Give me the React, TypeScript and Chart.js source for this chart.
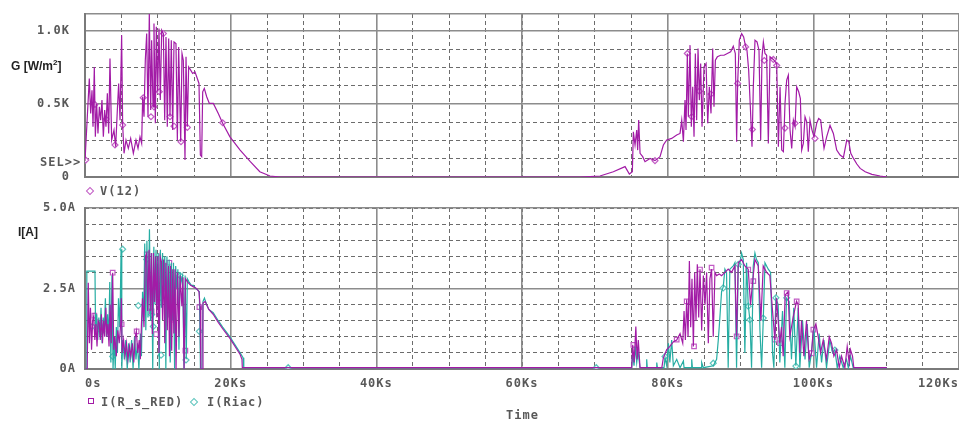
import React, { useEffect, useRef } from 'react';
import { Chart, registerables } from 'chart.js';

Chart.register(...registerables);

// ---------- axis ticks ----------
const timeTicks = [0, 20, 40, 60, 80, 100, 120];
const timeTickLabels = ['0s', '20Ks', '40Ks', '60Ks', '80Ks', '100Ks', '120Ks'];
const timeMinorTicks = [0, 5, 10, 15, 20, 25, 30, 35, 40, 45, 50, 55, 60, 65, 70, 75, 80, 85, 90, 95, 100, 105, 110, 115, 120];
const gTicks = [0, 500, 1000];
const gTickLabels = ['0', '0.5K', '1.0K'];
const gMinorTicks = [0, 125, 250, 375, 500, 625, 750, 875, 1000];
const gMax = 1115;
const iTicks = [0, 2.5, 5];
const iTickLabels = ['0A', '2.5A', '5.0A'];
const iMinorTicks = [0, 0.5, 1, 1.5, 2, 2.5, 3, 3.5, 4, 4.5, 5];

// ---------- V(12) : G [W/m2] vs time [Ks] ----------
const vSeries: [number, number][] = [
  [0, 110], [0.59, 674], [0.78, 435], [0.96, 594], [1.1, 344], [1.28, 753], [1.42, 275], [1.6, 503], [1.78, 298], [1.97, 480],
  [2.15, 389], [2.33, 526], [2.52, 275], [2.7, 458], [2.88, 344], [3.07, 572], [3.25, 298], [3.43, 811], [3.66, 253], [3.98, 321],
  [4.21, 207], [4.44, 458], [4.62, 640], [4.81, 389], [5.03, 970], [5.17, 355], [5.36, 162], [5.63, 253], [5.95, 196], [6.27, 264],
  [6.64, 162], [7.0, 253], [7.28, 196], [7.55, 275], [7.78, 230], [7.92, 549], [8.1, 412], [8.28, 799], [8.47, 981], [8.65, 412],
  [8.83, 1118], [9.02, 458], [9.15, 936], [9.34, 480], [9.47, 1050], [9.66, 367], [9.79, 1027], [9.98, 583], [10.16, 1016], [10.34, 526],
  [10.53, 1004], [10.76, 981], [10.94, 389], [11.12, 958], [11.3, 344], [11.49, 947], [11.67, 412], [11.85, 936], [12.04, 321], [12.22, 924],
  [12.49, 913], [12.68, 253], [12.86, 890], [13.14, 241], [13.32, 845], [13.5, 799], [13.73, 116], [13.87, 822], [14.05, 344], [14.23, 753],
  [14.51, 731], [14.78, 708], [15.1, 719], [15.42, 674], [15.65, 640], [15.84, 150], [16.02, 139], [16.16, 583], [16.38, 606], [16.71, 549],
  [17.07, 503], [17.62, 503], [18.3, 435], [18.9, 367], [19.9, 275], [21.3, 184], [22.7, 105], [24.0, 36], [25.4, 7], [26.8, 0],
  [68, 0], [70.71, 7], [72.54, 36], [74.15, 71], [74.74, 20], [75.15, 36], [75.29, 309], [75.52, 219], [75.75, 321], [75.88, 184],
  [76.02, 389], [76.21, 162], [76.57, 139], [76.89, 105], [77.58, 127], [78.26, 112], [78.95, 139], [79.41, 219], [79.87, 253], [80.55, 264],
  [81.24, 287], [81.7, 298], [81.93, 389], [82.16, 241], [82.38, 526], [82.52, 321], [82.7, 845], [82.84, 412], [83.07, 902], [83.25, 344],
  [83.44, 617], [83.62, 275], [83.8, 845], [83.98, 389], [84.17, 879], [84.35, 526], [84.53, 776], [84.72, 344], [84.99, 753], [85.27, 776],
  [85.5, 367], [85.72, 617], [85.95, 435], [86.18, 879], [86.36, 480], [86.55, 799], [86.82, 822], [87.28, 833], [87.74, 833], [88.19, 845],
  [88.65, 856], [89.01, 895], [89.29, 845], [89.47, 241], [89.61, 640], [89.84, 936], [90.16, 981], [90.43, 958], [90.66, 902], [90.89, 867],
  [91.12, 731], [91.35, 480], [91.58, 207], [91.76, 617], [91.99, 936], [92.27, 924], [92.54, 867], [92.77, 253], [92.95, 822], [93.14, 924],
  [93.36, 845], [93.59, 833], [93.82, 230], [94.05, 822], [94.51, 804], [94.97, 776], [95.2, 207], [95.43, 617], [95.66, 184], [95.89, 173],
  [96.11, 503], [96.34, 663], [96.57, 697], [96.8, 321], [97.03, 196], [97.26, 389], [97.49, 344], [97.71, 617], [97.99, 583], [98.22, 537],
  [98.4, 184], [98.63, 230], [98.86, 412], [99.09, 378], [99.31, 173], [99.54, 389], [99.82, 321], [100.09, 275], [100.46, 367], [100.73, 400],
  [101.01, 389], [101.24, 287], [101.47, 196], [101.83, 275], [102.29, 353], [102.75, 298], [103.21, 184], [103.67, 150], [104.13, 134], [104.59, 253],
  [104.87, 241], [105.14, 162], [105.51, 127], [105.97, 89], [106.43, 59], [107.12, 36], [108.04, 18], [109.18, 7], [110.1, 0],
];
const vMarkers: [number, number][] = [
  [0.1, 116], [1.37, 496], [2.88, 396], [4.12, 219], [5.17, 355], [8.0, 542], [9.06, 412], [9.47, 480], [10.2, 583], [10.76, 981],
  [11.67, 412], [12.22, 348], [13.18, 241], [14.05, 339], [18.9, 371],
  [78.26, 112], [82.7, 845], [83.3, 412], [84.35, 587], [85.95, 567], [89.61, 640], [90.7, 890], [91.63, 325], [93.27, 797], [94.51, 804],
  [94.97, 763], [96.11, 335], [97.49, 367], [100.23, 264],
];

// ---------- I(R_s_RED) [A] vs time [Ks] ----------
const redSeries: [number, number][] = [
  [0, 0], [0.3, 0], [0.45, 2.68], [0.6, 0.8], [0.75, 1.9], [0.9, 0.6], [1.05, 1.5], [1.2, 1.65], [1.35, 0.9], [1.5, 1.4],
  [1.65, 0.7], [1.8, 1.5], [1.95, 1.43], [2.1, 0.9], [2.25, 1.7], [2.4, 0.8], [2.55, 1.5], [2.7, 1.0], [2.85, 1.9], [3.0, 1.0],
  [3.15, 1.4], [3.3, 0.7], [3.45, 2.0], [3.6, 0.8], [3.8, 2.99], [3.95, 0.6], [4.1, 1.0], [4.3, 0.4], [4.5, 1.2], [4.7, 0.8],
  [4.9, 1.39], [5.0, 2.2], [5.1, 0.5], [5.3, 0.9], [5.5, 0.4], [5.7, 0.8], [5.9, 0.3], [6.1, 0.7], [6.3, 0.4], [6.5, 0.8],
  [6.7, 0.2], [6.9, 1.0], [7.05, 1.17], [7.25, 0.5], [7.45, 0.9], [7.6, 0.3], [7.75, 1.4], [7.9, 2.2], [8.1, 1.3], [8.3, 3.5],
  [8.47, 3.59], [8.6, 1.8], [8.8, 3.7], [8.95, 1.8], [9.1, 3.6], [9.25, 1.09], [9.4, 3.6], [9.55, 2.08], [9.7, 3.5], [9.85, 1.6],
  [10.0, 3.5], [10.15, 0.5], [10.3, 3.5], [10.5, 3.33], [10.65, 1.52], [10.8, 3.4], [10.95, 0.8], [11.1, 3.3], [11.3, 1.2], [11.45, 3.2],
  [11.6, 0.4], [11.75, 3.2], [11.9, 0.57], [12.05, 3.1], [12.2, 1.1], [12.35, 3.1], [12.5, 0], [12.7, 3.0], [12.9, 1.0], [13.05, 2.9],
  [13.3, 1.95], [13.45, 2.85], [13.6, 0], [13.8, 2.8], [14.1, 2.7], [14.5, 2.6], [14.9, 2.55], [15.3, 2.5], [15.65, 2.4], [15.8, 1.95],
  [15.9, 0], [16.1, 0], [16.2, 2.05], [16.5, 2.1], [17.0, 1.85], [17.6, 1.7], [18.3, 1.45], [18.9, 1.25], [19.9, 0.95], [20.6, 0.7],
  [21.3, 0.45], [21.55, 0.3], [21.6, 0.04],
  [75.06, 0.04], [75.2, 0.75], [75.4, 0.2], [75.63, 1.32], [75.8, 0.3], [75.97, 0.9], [76.2, 0.04], [79.2, 0.04], [79.41, 0.35], [79.87, 0.6],
  [80.3, 0.7], [80.8, 0.85], [81.24, 0.9], [81.7, 1.1], [82.07, 0.8], [82.25, 1.8], [82.43, 0.9], [82.61, 2.16], [82.8, 1.0], [82.98, 3.35],
  [83.16, 1.3], [83.34, 2.8], [83.53, 0.7], [83.71, 3.0], [83.89, 1.5], [84.07, 3.25], [84.26, 1.6], [84.44, 3.1], [84.67, 1.2], [84.9, 2.9],
  [85.13, 2.0], [85.35, 3.0], [85.58, 0.8], [85.8, 2.8], [86.03, 3.1], [86.26, 1.0], [86.49, 3.0], [86.72, 2.9], [87.08, 2.95], [87.4, 2.9],
  [87.86, 3.0], [88.31, 3.1], [88.77, 3.0], [89.23, 3.2], [89.46, 1.0], [89.69, 3.3], [90.15, 3.4], [90.6, 3.2], [91.06, 3.1], [91.38, 2.0],
  [91.66, 2.7], [91.98, 3.4], [92.44, 3.2], [92.8, 1.5], [93.12, 3.2], [93.58, 3.0], [94.03, 2.9], [94.4, 1.8], [94.72, 0.9], [94.95, 2.2],
  [95.4, 0.8], [95.63, 1.3], [95.86, 0.4], [96.13, 2.3], [96.54, 2.4], [96.77, 1.0], [97.23, 1.6], [97.69, 2.1], [97.92, 2.0], [98.15, 0.5],
  [98.38, 1.5], [98.7, 0.4], [99.06, 1.5], [99.43, 0.3], [99.75, 0.5], [99.98, 1.2], [100.35, 1.4], [100.67, 1.0], [100.99, 0.5], [101.36, 0.9],
  [101.81, 0.3], [102.18, 1.0], [102.5, 0.8], [102.82, 0.4], [103.19, 0.6], [103.55, 0.04], [103.87, 0.4], [104.33, 0.04], [104.65, 0.7], [104.92, 0.2],
  [105.1, 0.6], [105.38, 0.4], [105.56, 0.04], [110.1, 0.04],
];
const redMarkers: [number, number][] = [
  [1.28, 1.66], [2.38, 1.43], [3.8, 2.99], [5.03, 1.39], [7.09, 1.17], [8.47, 3.56], [9.15, 1.79], [9.75, 1.08], [10.3, 2.07], [11.58, 3.3],
  [11.95, 1.53], [13.78, 0.57], [15.7, 1.92],
  [75.29, 0.75], [81.24, 0.91], [82.61, 2.1], [83.62, 0.7], [84.44, 3.09], [86.03, 3.15], [89.47, 1.01], [91.06, 3.09], [91.76, 2.73], [94.72, 0.91],
  [95.43, 0.8], [96.34, 2.36], [97.71, 2.1], [99.77, 0.49], [100.0, 1.22],
];

// ---------- I(Riac) [A] vs time [Ks] ----------
const riacSeries: [number, number][] = [
  [0, 0], [0.2, 0], [0.25, 3.04], [1.37, 3.04], [1.45, 1.2], [1.6, 1.7], [1.75, 0.9], [1.9, 1.6], [2.05, 1.0], [2.2, 1.9],
  [2.35, 0.8], [2.5, 1.6], [2.65, 1.2], [2.8, 2.2], [2.95, 1.0], [3.1, 1.7], [3.25, 0.9], [3.4, 2.7], [3.55, 0.2], [3.7, 2.9],
  [3.85, 0], [4.0, 1.0], [4.15, 0], [4.3, 1.3], [4.45, 0.5], [4.6, 2.2], [4.8, 1.3], [4.95, 3.72], [5.05, 0], [5.2, 0.9],
  [5.4, 0.3], [5.6, 0.9], [5.8, 0], [6.0, 0.8], [6.2, 0.2], [6.4, 0.9], [6.6, 0], [6.8, 1.0], [7.0, 0.3], [7.2, 0.8],
  [7.4, 0], [7.6, 1.1], [7.75, 0.4], [7.9, 2.4], [8.05, 1.5], [8.2, 3.9], [8.35, 1.2], [8.5, 3.98], [8.65, 1.6], [8.85, 4.34],
  [9.0, 1.5], [9.15, 3.6], [9.3, 0], [9.45, 3.8], [9.6, 2.0], [9.75, 3.7], [9.9, 2.2], [10.05, 3.6], [10.2, 0], [10.35, 3.7],
  [10.5, 1.9], [10.65, 3.6], [10.8, 2.4], [10.95, 3.5], [11.1, 0], [11.25, 3.5], [11.4, 1.6], [11.55, 3.4], [11.7, 0.2], [11.85, 3.3],
  [12.0, 1.5], [12.15, 3.3], [12.3, 0], [12.45, 3.2], [12.6, 2.5], [12.75, 3.1], [12.9, 0.6], [13.05, 3.0], [13.2, 2.7], [13.4, 2.9],
  [13.6, 0], [13.75, 2.9], [13.9, 0.3], [14.05, 2.8], [14.3, 2.7], [14.6, 2.6], [14.9, 2.6], [15.2, 2.5], [15.5, 2.45], [15.7, 2.4],
  [15.85, 0], [16.05, 0], [16.2, 2.1], [16.4, 2.2], [16.7, 2.0], [17.0, 1.85], [17.6, 1.75], [18.3, 1.5], [18.9, 1.3], [19.9, 1.0],
  [20.6, 0.75], [21.3, 0.5], [21.7, 0.35], [21.8, 0.04],
  [75.06, 0.04], [75.2, 0.5], [75.38, 0.1], [75.56, 0.7], [75.75, 0.2], [75.93, 0.55], [76.2, 0.05], [77.05, 0.04], [77.12, 0.3], [77.2, 0.04],
  [78.45, 0.04], [78.5, 0.2], [78.6, 0.04], [79.5, 0.04], [79.64, 0.35], [79.87, 0.1], [80.1, 0.8], [80.3, 0.2], [80.55, 0.9], [80.78, 0.1],
  [81.24, 0.3], [81.7, 0.04], [82.16, 0.25], [82.25, 0.04], [83.25, 0.04], [83.3, 0.3], [83.4, 0.04], [84.6, 0.04], [84.67, 0.2], [84.9, 0.04],
  [86.26, 0.1], [86.72, 0.3], [86.95, 0.9], [87.17, 1.6], [87.4, 2.4], [87.63, 2.55], [87.86, 3.1], [88.08, 3.0], [88.31, 0.04], [88.54, 3.1],
  [89.0, 3.2], [89.23, 3.3], [89.46, 0.04], [89.69, 3.2], [89.92, 3.3], [90.15, 3.6], [90.38, 3.4], [90.6, 0.5], [90.83, 3.3], [91.06, 2.0],
  [91.3, 1.5], [91.52, 0.04], [91.75, 3.2], [91.98, 3.6], [92.2, 3.4], [92.44, 3.3], [92.67, 1.2], [92.9, 0.04], [93.12, 1.5], [93.36, 3.3],
  [93.81, 3.1], [94.13, 3.0], [94.4, 0.5], [94.58, 0.04], [94.86, 2.2], [95.17, 2.0], [95.4, 0.2], [95.77, 1.8], [96.09, 0.04], [96.31, 2.2],
  [96.68, 2.1], [97.0, 0.3], [97.31, 1.9], [97.6, 0.1], [97.92, 1.9], [98.15, 0.04], [98.52, 1.5], [98.86, 0.3], [99.17, 1.4], [99.43, 0.04],
  [99.75, 0.5], [100.07, 1.3], [100.44, 0.04], [100.8, 1.1], [101.13, 0.2], [101.45, 0.9], [101.81, 0.04], [102.27, 0.9], [102.64, 0.5], [102.96, 0.6],
  [103.28, 0.04], [103.64, 0.4], [104.1, 0.04], [104.55, 0.3], [104.8, 0.04], [105.1, 0.4], [105.47, 0.04], [110.1, 0.04],
];
const riacMarkers: [number, number][] = [
  [1.0, 1.32], [2.29, 1.17], [3.8, 0.39], [5.17, 3.72], [7.32, 1.97], [8.47, 3.4], [9.15, 1.69], [9.38, 1.32], [9.98, 2.62], [10.44, 0.43],
  [11.44, 2.62], [13.04, 2.9], [13.87, 0.28], [15.7, 1.17], [27.9, 0.04], [70.2, 0.04],
  [79.64, 0.39], [86.26, 0.18], [87.63, 2.52], [89.69, 3.25], [91.06, 1.95], [91.29, 1.53], [93.12, 1.58], [94.86, 2.21], [96.34, 2.21], [97.6, 0.09],
  [99.77, 0.49], [102.96, 0.59],
];

// ---------- styles ----------
const MAGENTA = '#a21ba6';
const MAGENTA_MARK = '#c25cc5';
const TEAL = '#26ada3';
const TEAL_MARK = '#5ec5bd';
const GRID_SOLID = '#8c8c8c';
const GRID_DASH = '#6c6c6c';
const TICK_COLOR = '#585858';
const MONO = '"DejaVu Sans Mono", "Liberation Mono", monospace';

const toXY = (s: [number, number][]) => s.map(([x, y]) => ({ x, y }));
const setTicks = (values: number[]) => (scale: any) => {
  scale.ticks = values.map((value) => ({ value }));
};
const lookup = (values: number[], labels: string[]) => (v: any) => {
  const i = values.indexOf(Number(v));
  return i >= 0 ? labels[i] : '';
};
const zeroPadding = (s: any) => {
  s.paddingTop = 0;
  s.paddingBottom = 0;
  s.paddingLeft = 0;
  s.paddingRight = 0;
};

const spacingPlugin = {
  id: 'letterSpacing',
  beforeDraw(chart: any) {
    try {
      chart.ctx.letterSpacing = '1px';
    } catch (e) {
      /* ignore */
    }
  },
};

function traceDataset(label: string, data: [number, number][], color: string) {
  return {
    label,
    data: toXY(data),
    borderColor: color,
    backgroundColor: color,
    borderWidth: 1.2,
    pointRadius: 0,
    pointHoverRadius: 0,
    tension: 0,
  };
}

function markerDataset(label: string, data: [number, number][], color: string, style: string, radius: number) {
  return {
    label,
    data: toXY(data),
    showLine: false,
    borderColor: color,
    pointStyle: style,
    pointRadius: radius,
    pointHoverRadius: radius,
    pointBorderWidth: 1.2,
    pointBorderColor: color,
    pointBackgroundColor: '#ffffff',
  };
}

function xScales(showLabels: boolean, height: number) {
  return {
    xMinor: {
      type: 'linear',
      position: 'bottom',
      min: 0,
      max: 120,
      afterBuildTicks: setTicks(timeMinorTicks),
      ticks: { display: false },
      grid: { color: GRID_DASH, lineWidth: 1, drawTicks: false, z: -2 },
      border: { display: false, dash: [4, 3], z: -2 },
      afterFit: (s: any) => {
        s.height = 0;
        zeroPadding(s);
      },
    },
    x: {
      type: 'linear',
      position: 'bottom',
      min: 0,
      max: 120,
      afterBuildTicks: setTicks(timeTicks),
      ticks: {
        display: showLabels,
        callback: lookup(timeTicks, timeTickLabels),
        autoSkip: false,
        maxRotation: 0,
        align: 'inner',
        padding: 8,
        color: TICK_COLOR,
        font: { family: MONO, size: 12, weight: 'bold' },
      },
      grid: { color: GRID_SOLID, lineWidth: 1.6, drawTicks: false, z: -1 },
      border: { display: true, color: '#7a7a7a', width: 2 },
      afterFit: (s: any) => {
        s.height = height;
        zeroPadding(s);
      },
    },
  };
}

function yScales(minor: number[], major: number[], labels: string[], max: number, pad: number) {
  return {
    yMinor: {
      type: 'linear',
      position: 'left',
      min: 0,
      max,
      afterBuildTicks: setTicks(minor),
      ticks: { display: false },
      grid: { color: GRID_DASH, lineWidth: 1, drawTicks: false, z: -2 },
      border: { display: false, dash: [4, 3], z: -2 },
      afterFit: (s: any) => {
        s.width = 0;
        zeroPadding(s);
      },
    },
    y: {
      type: 'linear',
      position: 'left',
      min: 0,
      max,
      afterBuildTicks: setTicks(max > major[major.length - 1] ? [...major, max] : major),
      ticks: {
        callback: lookup(major, labels),
        autoSkip: false,
        padding: pad,
        color: TICK_COLOR,
        font: { family: MONO, size: 12, weight: 'bold' },
      },
      grid: { color: GRID_SOLID, lineWidth: 1.6, drawTicks: false, z: -1 },
      border: { display: true, color: '#7a7a7a', width: 2 },
      afterFit: (s: any) => {
        s.width = 85;
        zeroPadding(s);
      },
    },
  };
}

function baseOptions(paddingTop: number, scales: any) {
  return {
    animation: false,
    responsive: false,
    maintainAspectRatio: false,
    events: [],
    layout: { autoPadding: false, padding: { top: paddingTop, right: 0, left: 0, bottom: 0 } },
    plugins: { legend: { display: false }, tooltip: { enabled: false }, title: { display: false } },
    scales,
  };
}

const textBase: React.CSSProperties = {
  position: 'absolute',
  whiteSpace: 'nowrap',
  fontFamily: MONO,
  fontWeight: 'bold',
  fontSize: 12,
  lineHeight: '14px',
  letterSpacing: 1,
  color: TICK_COLOR,
};
const titleBase: React.CSSProperties = {
  position: 'absolute',
  whiteSpace: 'nowrap',
  fontFamily: '"Liberation Sans", Arial, sans-serif',
  fontWeight: 'bold',
  fontSize: 12,
  lineHeight: '14px',
  color: '#222',
};

function Diamond({ color, left, top }: { color: string; left: number; top: number }) {
  return (
    <div
      style={{
        position: 'absolute',
        left,
        top,
        width: 4,
        height: 4,
        border: `1.2px solid ${color}`,
        transform: 'rotate(45deg)',
        background: '#fff',
      }}
    />
  );
}

function Square({ color, left, top }: { color: string; left: number; top: number }) {
  return (
    <div
      style={{
        position: 'absolute',
        left,
        top,
        width: 4,
        height: 4,
        border: `1.5px solid ${color}`,
        background: '#fff',
      }}
    />
  );
}

export default function App() {
  const topRef = useRef<HTMLCanvasElement>(null);
  const botRef = useRef<HTMLCanvasElement>(null);

  useEffect(() => {
    document.body.style.margin = '0';
    const top = new Chart(topRef.current as HTMLCanvasElement, {
      type: 'line',
      data: {
        datasets: [
          traceDataset('V(12)', vSeries, MAGENTA),
          markerDataset('V(12) markers', vMarkers, MAGENTA_MARK, 'rectRot', 3),
        ],
      },
      options: baseOptions(14, { ...xScales(false, 13), ...yScales(gMinorTicks, gTicks, gTickLabels, gMax, 15) }) as any,
      plugins: [spacingPlugin],
    } as any);
    const bot = new Chart(botRef.current as HTMLCanvasElement, {
      type: 'line',
      data: {
        datasets: [
          traceDataset('I(R_s_RED)', redSeries, MAGENTA),
          traceDataset('I(Riac)', riacSeries, TEAL),
          markerDataset('I(R_s_RED) markers', redMarkers, MAGENTA_MARK, 'rect', 3.2),
          markerDataset('I(Riac) markers', riacMarkers, TEAL_MARK, 'rectRot', 3),
        ],
      },
      options: baseOptions(18, { ...xScales(true, 52), ...yScales(iMinorTicks, iTicks, iTickLabels, 5, 9) }) as any,
      plugins: [spacingPlugin],
    } as any);
    return () => {
      top.destroy();
      bot.destroy();
    };
  }, []);

  return (
    <div style={{ position: 'relative', width: 959, height: 421, background: '#fff', overflow: 'hidden' }}>
      <canvas ref={topRef} width={959} height={190} style={{ position: 'absolute', left: 0, top: 0 }} />
      <canvas ref={botRef} width={959} height={231} style={{ position: 'absolute', left: 0, top: 190 }} />

      <div style={{ ...titleBase, left: 11, top: 59 }}>
        G [W/m<sup style={{ fontSize: 8, lineHeight: 0 }}>2</sup>]
      </div>
      <div style={{ ...textBase, left: 40, top: 155 }}>SEL&gt;&gt;</div>

      <Diamond color={MAGENTA_MARK} left={87} top={188} />
      <div style={{ ...textBase, left: 100, top: 184 }}>V(12)</div>

      <div style={{ ...titleBase, left: 18, top: 225 }}>I[A]</div>

      <Square color={MAGENTA} left={88} top={398} />
      <div style={{ ...textBase, left: 101, top: 395 }}>I(R_s_RED)</div>
      <Diamond color={TEAL_MARK} left={191} top={399} />
      <div style={{ ...textBase, left: 207, top: 395 }}>I(Riac)</div>

      <div style={{ ...textBase, left: 506, top: 408 }}>Time</div>
    </div>
  );
}
